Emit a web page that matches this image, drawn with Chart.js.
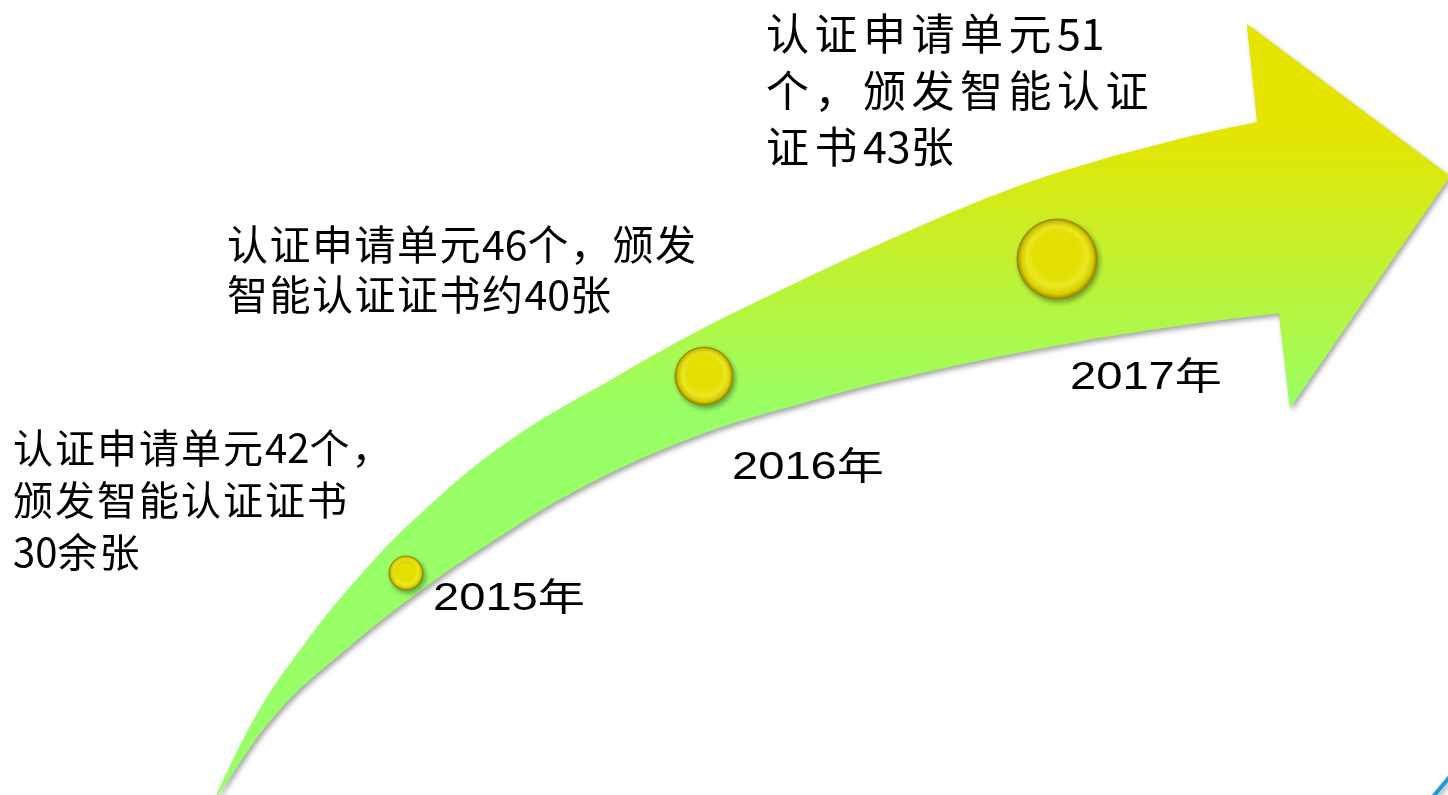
<!DOCTYPE html>
<html>
<head>
<meta charset="utf-8">
<script src="https://cdn.jsdelivr.net/npm/chart.js@4.4.1/dist/chart.umd.min.js"></script>
<style>
  html, body { margin: 0; padding: 0; background: #ffffff; }
  #wrap { position: relative; width: 1448px; height: 795px; }
</style>
</head>
<body>
<div id="wrap"><canvas id="c"></canvas></div>
<script>
// ---- data ----
const years = ['2015年', '2016年', '2017年'];
const unitCounts = [42, 46, 51];          // 认证申请单元（个）
const certCounts = ['30余', '约40', '43']; // 颁发智能认证证书（张）

// bubble marks (timeline milestones)
const bubbleX = [406, 704, 1057];
const bubbleY = [573, 376, 259];
const bubbleR = [17, 29, 40];

// arrow band edges
const upperEdgeX = [215, 257, 303, 357, 418, 506, 621, 700, 800, 900, 1013, 1100, 1160, 1200, 1257, 1300];
const upperEdgeY = [797, 714, 646, 579, 516, 443, 374, 330, 281, 235, 188, 160, 144, 134, 122, 113];
const lowerEdgeX = [217, 277, 349, 423, 487, 583, 697, 800, 900, 1060, 1200, 1300];
const lowerEdgeY = [797, 713, 647, 589, 545, 487, 436, 404, 378, 345, 323, 311];
// arrow head
const headX = [1257, 1247, 1450, 1290, 1279];
const headY = [120, 24, 176, 408, 314];
// corner accent
const accentX = [1432, 1452];
const accentY = [798, 774];

// text anchors
const labelX = [13, 227, 766];
const labelY = [463, 260, 50];
const yearX = [433, 732, 1070];
const yearY = [610, 479, 389];

const labelLines = [
  [`认证申请单元${unitCounts[0]}个，`, '颁发智能认证证书', `${certCounts[0]}张`],
  [`认证申请单元${unitCounts[1]}个，颁发`, `智能认证证书${certCounts[1]}张`],
  [`认证申请单元${unitCounts[2]}`, '个，颁发智能认证', `证书${certCounts[2]}张`]
];

// the canvas is used edge to edge: no automatic overflow padding
Chart.BubbleController.prototype.getMaxOverflow = function () { return 0; };
Chart.LineController.prototype.getMaxOverflow = function () { return 0; };

const zip = (xs, ys) => xs.map((x, i) => ({x, y: ys[i]}));

function arrowGradient(c) {
  const chart = c.chart;
  if (!chart.chartArea) return '#99ff66';
  const ys = chart.scales.y;
  const g = chart.ctx.createLinearGradient(0, ys.getPixelForValue(130), 0, ys.getPixelForValue(410));
  g.addColorStop(0, '#e5e500');
  g.addColorStop(1, '#99ff66');
  return g;
}

function bubbleGradient(c) {
  if (c.type !== 'data' || !c.chart.chartArea) return '#e4e000';
  const ch = c.chart;
  const x = ch.scales.x.getPixelForValue(c.raw.x);
  const y = ch.scales.y.getPixelForValue(c.raw.y);
  const r = c.raw.r;
  const g = ch.ctx.createRadialGradient(x, y - r * 0.25, r * 0.05, x, y, r);
  g.addColorStop(0, '#e6e200');
  g.addColorStop(0.55, '#e3df00');
  g.addColorStop(0.74, '#ebe826');
  g.addColorStop(0.9, '#d8ce00');
  g.addColorStop(1, '#9a8800');
  return g;
}

const isCJK = ch => /[\u3000-\u9fff\uff00-\uffef]/.test(ch);
function drawSpaced(ctx, text, x, y, cjkSpacing) {
  let cx = x;
  for (const ch of text) {
    ctx.fillText(ch, cx, y);
    cx += ctx.measureText(ch).width + (isCJK(ch) ? cjkSpacing : 0);
  }
}

function shadowOn(ctx) {
  ctx.shadowColor = 'rgba(0,0,0,0.35)';
  ctx.shadowBlur = 5;
  ctx.shadowOffsetX = 2;
  ctx.shadowOffsetY = 3;
}
function shadowOff(ctx) {
  ctx.shadowColor = 'rgba(0,0,0,0)';
  ctx.shadowBlur = 0;
  ctx.shadowOffsetX = 0;
  ctx.shadowOffsetY = 0;
}

const HEAD_INDEX = 2, UPPER_INDEX = 3;

const decor = {
  id: 'decor',
  beforeDatasetsDraw(chart) {
    chart.ctx.save();
    shadowOn(chart.ctx);
  },
  afterDatasetDraw(chart, args) {
    if (args.index === UPPER_INDEX) shadowOff(chart.ctx);
    if (args.index === HEAD_INDEX) shadowOn(chart.ctx);
  },
  afterDatasetsDraw(chart) {
    const ctx = chart.ctx;
    ctx.restore();
    const sx = chart.scales.x, sy = chart.scales.y;
    ctx.save();
    ctx.fillStyle = '#000000';
    ctx.textBaseline = 'alphabetic';
    ctx.textAlign = 'left';
    const fonts = [
      {font: '40px "Noto Sans CJK SC", sans-serif', sp: 2, lh: 52},
      {font: '41px "Noto Sans CJK SC", sans-serif', sp: 1.5, lh: 50},
      {font: '43px "Noto Sans CJK SC", sans-serif', sp: 5.5, lh: 56.5}
    ];
    labelLines.forEach((lines, i) => {
      ctx.font = fonts[i].font;
      const x = sx.getPixelForValue(labelX[i]);
      const y0 = sy.getPixelForValue(labelY[i]);
      lines.forEach((t, k) => drawSpaced(ctx, t, x, y0 + k * fonts[i].lh, fonts[i].sp));
    });
    ctx.font = '38px "Liberation Sans", "Noto Sans CJK SC", sans-serif';
    years.forEach((t, i) => {
      ctx.save();
      ctx.translate(sx.getPixelForValue(yearX[i]), sy.getPixelForValue(yearY[i]));
      ctx.scale(1.24, 1);
      ctx.fillText(t, 0, 0);
      ctx.restore();
    });
    ctx.restore();
  }
};

const noPoints = { pointRadius: 0, pointHoverRadius: 0, pointBorderWidth: 0, pointHitRadius: 0 };
const shapeStyle = { backgroundColor: arrowGradient, borderWidth: 0, borderColor: 'rgba(0,0,0,0)' };

new Chart(document.getElementById('c'), {
  type: 'line',
  data: {
    datasets: [
      {
        type: 'bubble',
        label: 'milestones',
        data: bubbleX.map((x, i) => ({x, y: bubbleY[i], r: bubbleR[i]})),
        backgroundColor: bubbleGradient,
        borderColor: 'rgba(150,130,0,0.85)',
        borderWidth: 1,
        hoverRadius: 0
      },
      Object.assign({
        label: 'accent',
        data: zip(accentX, accentY),
        borderColor: '#1c9be0',
        borderWidth: 4,
        fill: false
      }, noPoints),
      Object.assign({
        label: 'head',
        data: zip(headX, headY),
        tension: 0,
        fill: 'shape'
      }, shapeStyle, noPoints),
      Object.assign({
        label: 'upper',
        data: zip(upperEdgeX, upperEdgeY),
        tension: 0.4,
        fill: '+1'
      }, shapeStyle, noPoints),
      Object.assign({
        label: 'lower',
        data: zip(lowerEdgeX, lowerEdgeY),
        tension: 0.4,
        fill: false
      }, shapeStyle, noPoints),
      Object.assign({
        label: 'head shadow',
        data: zip(headX, headY),
        tension: 0,
        fill: 'shape'
      }, shapeStyle, noPoints)
    ]
  },
  options: {
    responsive: true,
    maintainAspectRatio: false,
    animation: false,
    layout: { padding: 0 },
    events: [],
    scales: {
      x: { type: 'linear', min: 0, max: 1448, display: false },
      y: { type: 'linear', min: 0, max: 795, reverse: true, display: false }
    },
    plugins: {
      legend: { display: false },
      tooltip: { enabled: false }
    }
  },
  plugins: [decor]
});
</script>
</body>
</html>
